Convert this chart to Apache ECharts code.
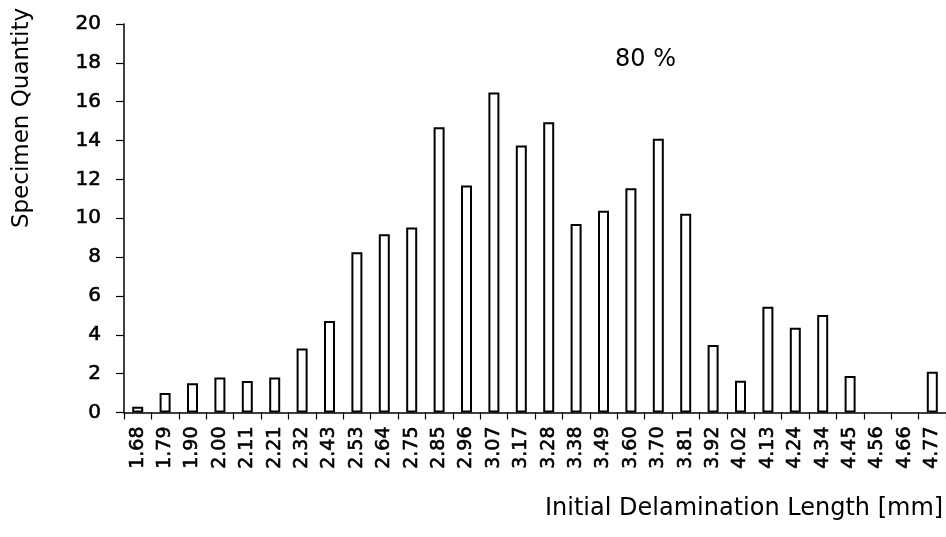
<!DOCTYPE html>
<html>
<head>
<meta charset="utf-8">
<script src="https://cdn.jsdelivr.net/npm/echarts@6/dist/echarts.min.js"></script>
<style>html,body{margin:0;padding:0;background:#fff;}#c{width:946px;height:537px;}</style>
</head>
<body>
<div id="c"></div>
<script>
const categories = ['1.68','1.79','1.90','2.00','2.11','2.21','2.32','2.43','2.53','2.64','2.75','2.85','2.96','3.07','3.17','3.28','3.38','3.49','3.60','3.70','3.81','3.92','4.02','4.13','4.24','4.34','4.45','4.56','4.66','4.77'];
const quantities = [0.3,1.0,1.5,1.8,1.62,1.8,3.3,4.71,8.25,9.17,9.53,14.68,11.69,16.48,13.75,14.94,9.7,10.39,11.54,14.09,10.23,3.47,1.64,5.45,4.36,5.02,1.88,0,0,2.1];
const yTicks = {min: 0, max: 20, interval: 2};
const annotation = '80 %';
const xTitle = 'Initial Delamination Length [mm]';
const yTitle = 'Specimen Quantity';

const font = 'DejaVu Sans';
const chart = echarts.init(document.getElementById('c'), null, {renderer: 'canvas'});
chart.setOption({
  backgroundColor: '#fff',
  animation: false,
  grid: {left: 124, top: 24, width: 828, height: 388.5},
  xAxis: {
    type: 'category',
    data: categories,
    axisLine: {lineStyle: {color: '#000', width: 1.5}},
    axisTick: {show: true, alignWithLabel: false, length: 7, lineStyle: {color: '#000', width: 1.2}},
    axisLabel: {rotate: 90, interval: 0, margin: 14, color: '#000', fontFamily: font, fontSize: 19, textBorderColor: '#000', textBorderWidth: 0.6}
  },
  yAxis: {
    type: 'value',
    min: yTicks.min, max: yTicks.max, interval: yTicks.interval,
    splitLine: {show: false},
    axisLine: {show: true, lineStyle: {color: '#000', width: 1.5}},
    axisTick: {show: true, length: 8, lineStyle: {color: '#000', width: 1.2}},
    axisLabel: {margin: 23, color: '#000', fontFamily: font, fontSize: 20, textBorderColor: '#000', textBorderWidth: 0.6}
  },
  series: [{
    type: 'bar',
    data: quantities.map(v => v === 0 ? {value: v, itemStyle: {borderWidth: 0}} : v),
    barWidth: 11,
    itemStyle: {color: '#fff', borderColor: '#000', borderWidth: 2}
  }],
  graphic: [
    {type: 'text', left: 615, top: 48, style: {text: annotation, fontFamily: font, fontSize: 24, fill: '#000'}},
    {type: 'text', left: 545, top: 497, style: {text: xTitle, fontFamily: font, fontSize: 24, fill: '#000'}},
    {type: 'text', x: 11, y: 118, rotation: Math.PI / 2, style: {text: yTitle, fontFamily: font, fontSize: 23, fill: '#000', align: 'center', verticalAlign: 'top'}}
  ]
});
</script>
</body>
</html>
